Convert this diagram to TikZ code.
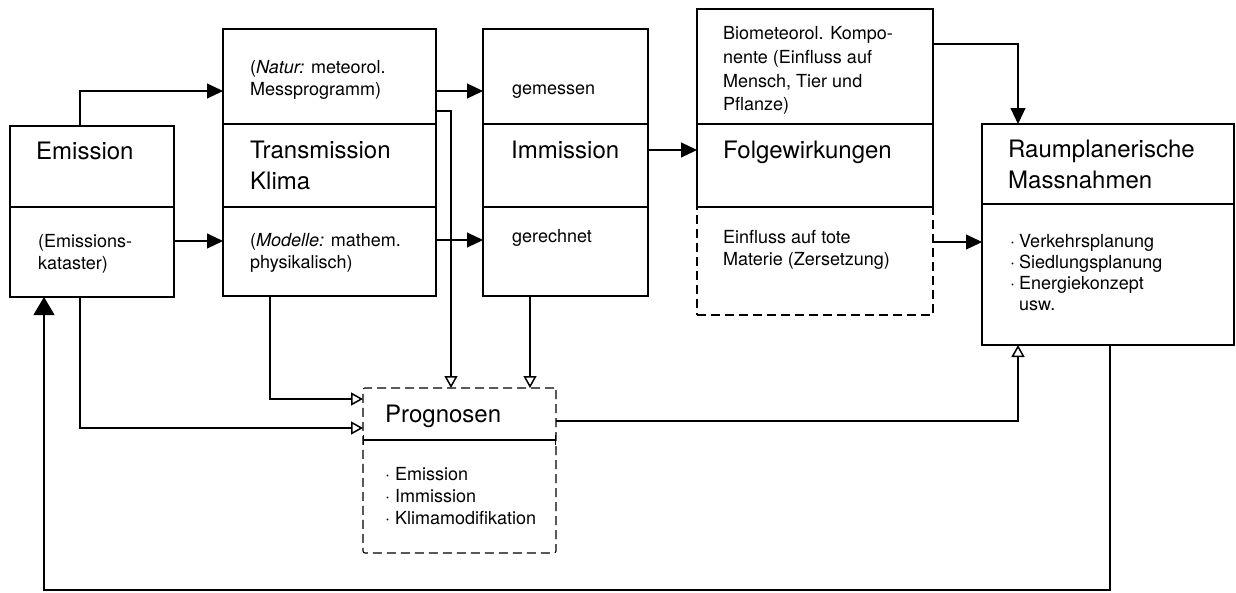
\documentclass[tikz,border=0pt]{standalone}
\usepackage{fontspec}
\setmainfont{TeX Gyre Heros}
\usetikzlibrary{arrows.meta,calc}
\begin{document}
\begin{tikzpicture}[x=1pt,y=-1pt,
  part/.style={draw, line width=1.1pt, inner sep=0pt, outer sep=0pt, anchor=north west},
  dpart/.style={part, dash pattern=on 9pt off 5pt},
  big/.style={anchor=base west, inner sep=0pt, font=\fontsize{24}{30}\selectfont},
  sm/.style={anchor=base west, inner sep=0pt, font=\fontsize{18}{22}\selectfont},
  conn/.style={line width=1.1pt},
  arr/.style={conn, -{Triangle[length=16pt,width=15pt]}},
  bigarr/.style={conn, -{Triangle[length=18pt,width=21pt]}},
  oarr/.style={conn, -{Triangle[open,length=12pt,width=13pt,line width=1.5pt]}}
]
\useasboundingbox (0,0) rectangle (1236,592);

% Emission
\node[part, minimum width=164pt, minimum height=81pt] (em1) at (10,126) {};
\node[part, minimum width=164pt, minimum height=90pt] (em2) at (10,207) {};
\node[big] (tem) at (36,159) {Emission};
\node[sm] (tem1) at (38,247) {(Emissions-};
\node[sm] (tem2) at (38,269) {kataster)};

% Transmission
\node[part, minimum width=213pt, minimum height=95pt] (tr1) at (223,29) {};
\node[part, minimum width=213pt, minimum height=83pt] (tr2) at (223,124) {};
\node[part, minimum width=213pt, minimum height=89pt] (tr3) at (223,207) {};
\node[sm] (ttr1) at (250,73) {(\textit{Natur:} meteorol.};
\node[sm] (ttr2) at (250,95) {Messprogramm)};
\node[big] (ttr3) at (250,158) {Transmission};
\node[big] (ttr4) at (250,189) {Klima};
\node[sm] (ttr5) at (250,246) {(\textit{Modelle:} mathem.};
\node[sm] (ttr6) at (250,268) {physikalisch)};

% Immission
\node[part, minimum width=165pt, minimum height=95pt] (im1) at (483,29) {};
\node[part, minimum width=165pt, minimum height=83pt] (im2) at (483,124) {};
\node[part, minimum width=165pt, minimum height=89pt] (im3) at (483,207) {};
\node[sm] (tim1) at (512,94) {gemessen};
\node[big] (tim2) at (511,158) {Immission};
\node[sm] (tim3) at (512,242) {gerechnet};

% Folgewirkungen
\node[dpart, minimum width=236pt, minimum height=108pt] (fo3) at (697,207) {};
\node[part, minimum width=236pt, minimum height=115pt] (fo1) at (697,9) {};
\node[part, minimum width=236pt, minimum height=83pt] (fo2) at (697,124) {};
\node[sm] (tfo1) at (723,39) {Biometeorol. Kompo-};
\node[sm] (tfo2) at (723,63) {nente (Einfluss auf};
\node[sm] (tfo3) at (723,87) {Mensch, Tier und};
\node[sm] (tfo4) at (723,110) {Pflanze)};
\node[big] (tfo5) at (723,158) {Folgewirkungen};
\node[sm] (tfo6) at (723,243) {Einfluss auf tote};
\node[sm] (tfo7) at (723,265) {Materie (Zersetzung)};

% Raumplanerische Massnahmen
\node[part, minimum width=252pt, minimum height=80pt] (ra1) at (982,124) {};
\node[part, minimum width=252pt, minimum height=141pt] (ra2) at (982,204) {};
\node[big] (tra1) at (1008,157) {Raumplanerische};
\node[big] (tra2) at (1008,188) {Massnahmen};
\node[sm] (tra3) at (1010,247) {\makebox[9pt][l]{·}Verkehrsplanung};
\node[sm] (tra4) at (1010,268) {\makebox[9pt][l]{·}Siedlungsplanung};
\node[sm] (tra5) at (1010,289) {\makebox[9pt][l]{·}Energiekonzept};
\node[sm] (tra6) at (1010,310) {\hspace*{9pt}usw.};

% Prognosen
\node[dpart, rounded corners=2pt, minimum width=193pt, minimum height=165pt] (pr) at (363,388) {};
\node[big] (tpr) at (385,422) {Prognosen};
\node[sm] (tpr1) at (385,480) {\makebox[10pt][l]{·}Emission};
\node[sm] (tpr2) at (385,502) {\makebox[10pt][l]{·}Immission};
\node[sm] (tpr3) at (385,524) {\makebox[10pt][l]{·}Klimamodifikation};
\draw[conn, {Bar[width=10pt]}-{Bar[width=10pt]}] ($(pr.north west)+(0,52)$) -- ($(pr.north east)+(0,52)$);

% connectors
\draw[arr] ($(em1.north west)+(70,0)$) |- ($(tr1.north west)+(0,62)$);
\draw[arr] ($(em2.north east)+(0,34)$) -- ($(tr3.north west)+(0,34)$);
\draw[arr] ($(tr1.north east)+(0,62)$) -- ($(im1.north west)+(0,62)$);
\draw[oarr] ($(tr1.north east)+(0,82)$) -| ($(pr.north west)+(88,0)$);
\draw[arr] ($(tr3.north east)+(0,33)$) -- ($(im3.north west)+(0,33)$);
\draw[oarr] ($(tr3.south west)+(47,0)$) |- ($(pr.north west)+(0,11)$);
\draw[oarr] ($(em2.south west)+(70,0)$) |- ($(pr.north west)+(0,40)$);
\draw[oarr] ($(im3.south west)+(47,0)$) -- ($(pr.north west)+(167,0)$);
\draw[arr] ($(im2.north east)+(0,26)$) -- ($(fo2.north west)+(0,26)$);
\draw[arr] ($(fo1.north east)+(0,35)$) -| ($(ra1.north west)+(36,0)$);
\draw[arr] ($(fo3.north east)+(0,35)$) -- ($(ra2.north west)+(0,38)$);
\draw[oarr] ($(pr.north east)+(0,33)$) -| ($(ra2.south west)+(36,0)$);
\draw[bigarr] ($(ra2.south west)+(128,0)$) -- ++(0,245) -| ($(em2.south west)+(34,0)$);
\end{tikzpicture}
\end{document}
